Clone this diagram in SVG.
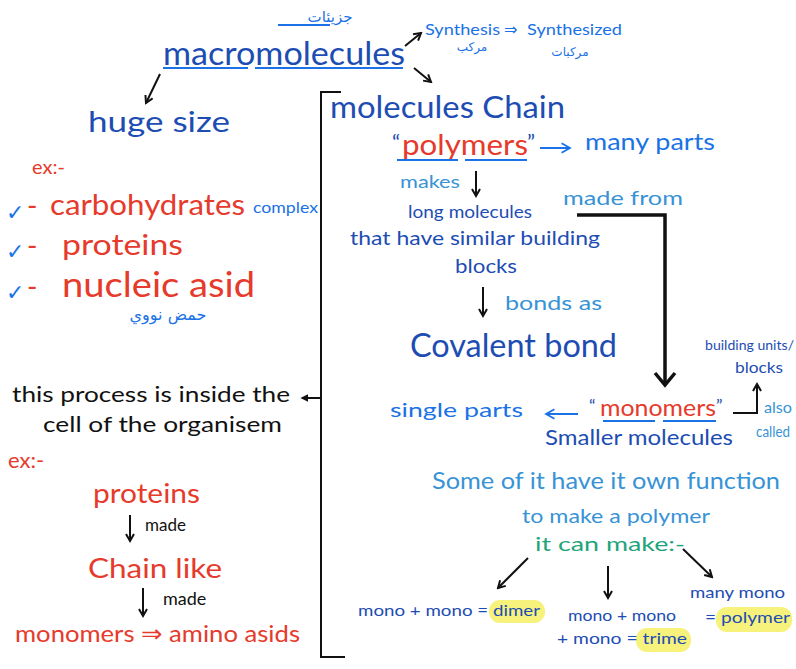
<svg xmlns="http://www.w3.org/2000/svg" width="796" height="669" viewBox="0 0 796 669">
<style>
text{font-family:Lato,"Open Sans","DejaVu Sans",sans-serif;}
.ar{font-family:"DejaVu Sans","Noto Sans",sans-serif;}
.db{fill:#1d4db3;}
.mb{fill:#1a72e6;}
.lb{fill:#3893d6;}
.rd{fill:#e63a2c;}
.gr{fill:#1ea57a;}
.bk{fill:#111;}
.ln{stroke:#111;stroke-width:2;fill:none;}
.thk{stroke:#111;stroke-width:3.5;fill:none;}
.ul{stroke:#1a72e6;stroke-width:2;fill:none;}
.hl{fill:#f7f27c;}
</style>
<defs>
<marker id="ah" viewBox="0 0 10 10" refX="8" refY="5" markerWidth="5" markerHeight="5" orient="auto-start-reverse">
<path d="M1,1 L8,5 L1,9" fill="none" stroke="#111" stroke-width="2"/>
</marker>
<marker id="ahs" viewBox="0 0 10 10" refX="8" refY="5" markerWidth="4" markerHeight="4" orient="auto">
<path d="M0,0 L10,5 L0,10 Z" fill="#111"/>
</marker>
<marker id="ahb" viewBox="0 0 10 10" refX="8" refY="5" markerWidth="6" markerHeight="6" orient="auto">
<path d="M1,1 L8,5 L1,9" fill="none" stroke="#1a72e6" stroke-width="1.5"/>
</marker>
</defs>

<g id="connectors">
<line class="ln" x1="405" y1="46" x2="421" y2="33" marker-end="url(#ah)"/>
<line class="ln" x1="414" y1="68" x2="431" y2="82" marker-end="url(#ah)"/>
<line class="ln" x1="160" y1="74" x2="146" y2="103" marker-end="url(#ah)"/>
<path class="ln" d="M341,92 L321,92 L321,657 L345,657"/>
<line class="ln" x1="321" y1="398" x2="302" y2="398" marker-end="url(#ahs)"/>
<line class="ul" x1="540" y1="148" x2="570" y2="148" marker-end="url(#ahb)"/>
<line class="ln" x1="476" y1="171" x2="476" y2="196" marker-end="url(#ah)"/>
<path class="thk" d="M577,215 L665,215 L665,384" />
<path d="M655,373 L665,385 L675,373" fill="none" stroke="#111" stroke-width="3.5"/>
<line class="ln" x1="483" y1="287" x2="483" y2="316" marker-end="url(#ah)"/>
<path class="ln" d="M733,413 L757,413 L757,384" marker-end="url(#ah)"/>
<line class="ul" x1="578" y1="414" x2="546" y2="414" marker-end="url(#ahb)"/>
<line class="ln" x1="130" y1="515" x2="130" y2="541" marker-end="url(#ah)"/>
<line class="ln" x1="143" y1="588" x2="143" y2="616" marker-end="url(#ah)"/>
<line class="ln" x1="528" y1="558" x2="498" y2="588" stroke-width="2.5" marker-end="url(#ah)"/>
<line class="ln" x1="608" y1="566" x2="608" y2="598" stroke-width="2.5" marker-end="url(#ah)"/>
<line class="ln" x1="683" y1="549" x2="712" y2="577" stroke-width="2.5" marker-end="url(#ah)"/>
</g>

<g id="n-macromolecules">
<text class="ar mb" x="330" y="22" font-size="15" text-anchor="middle">جزيئات</text>
<path class="ul" d="M278,25 L330,25"/>
<text class="db" x="163" y="65" font-size="32" textLength="242" lengthAdjust="spacingAndGlyphs">macromolecules</text>
<path class="ul" d="M163,68 L248,68 M255,68 L403,68"/>
</g>

<g id="n-synthesis">
<text class="mb" x="425" y="35" font-size="16" textLength="75" lengthAdjust="spacingAndGlyphs">Synthesis</text>
<text class="mb" x="504" y="35" font-size="16">⇒</text>
<text class="mb" x="527" y="35" font-size="16" textLength="95" lengthAdjust="spacingAndGlyphs">Synthesized</text>
<text class="ar mb" x="472" y="51" font-size="12" text-anchor="middle">مركب</text>
<text class="ar mb" x="570" y="56" font-size="12" text-anchor="middle">مركبات</text>
</g>

<g id="n-huge">
<text class="db" x="88" y="132" font-size="28" textLength="142" lengthAdjust="spacingAndGlyphs">huge size</text>
<text class="rd" x="32" y="174" font-size="20">ex:-</text>
<text class="mb" x="6" y="220" font-size="22">✓</text>
<text class="rd" x="27" y="216" font-size="28">-</text>
<text class="rd" x="50" y="215" font-size="28" textLength="195" lengthAdjust="spacingAndGlyphs">carbohydrates</text>
<text class="mb" x="253" y="213" font-size="16" textLength="65" lengthAdjust="spacingAndGlyphs">complex</text>
<text class="mb" x="6" y="259" font-size="22">✓</text>
<text class="rd" x="27" y="256" font-size="28">-</text>
<text class="rd" x="62" y="255" font-size="28" textLength="121" lengthAdjust="spacingAndGlyphs">proteins</text>
<text class="mb" x="6" y="300" font-size="22">✓</text>
<text class="rd" x="27" y="297" font-size="28">-</text>
<text class="rd" x="62" y="297" font-size="34" textLength="193" lengthAdjust="spacingAndGlyphs">nucleic asid</text>
<text class="ar mb" x="168" y="320" font-size="16" text-anchor="middle">حمض نووي</text>
</g>

<g id="n-process">
<text class="bk" x="12" y="402" font-size="21" textLength="278" lengthAdjust="spacingAndGlyphs">this process is inside the</text>
<text class="bk" x="43" y="432" font-size="21" textLength="239" lengthAdjust="spacingAndGlyphs">cell of the organisem</text>
<text class="rd" x="8" y="468" font-size="22">ex:-</text>
<text class="rd" x="93" y="503" font-size="26" textLength="107" lengthAdjust="spacingAndGlyphs">proteins</text>
<text class="bk" x="145" y="531" font-size="17">made</text>
<text class="rd" x="88" y="578" font-size="26" textLength="134" lengthAdjust="spacingAndGlyphs">Chain like</text>
<text class="bk" x="163" y="605" font-size="18">made</text>
<text class="rd" x="15" y="642" font-size="24" textLength="285" lengthAdjust="spacingAndGlyphs">monomers ⇒ amino asids</text>
</g>

<g id="n-chain">
<text class="db" x="330" y="118" font-size="30" textLength="235" lengthAdjust="spacingAndGlyphs">molecules Chain</text>
</g>

<g id="n-polymers">
<text class="db" x="392" y="150" font-size="22">“</text>
<text class="rd" x="402" y="155" font-size="28" textLength="126" lengthAdjust="spacingAndGlyphs">polymers</text>
<text class="db" x="527" y="150" font-size="22">”</text>
<path class="ul" d="M397,160 L458,160 M465,160 L527,160"/>
<text class="mb" x="585" y="150" font-size="24" textLength="130" lengthAdjust="spacingAndGlyphs">many parts</text>
<text class="lb" x="400" y="188" font-size="18" textLength="60" lengthAdjust="spacingAndGlyphs">makes</text>
<text class="lb" x="563" y="205" font-size="20" textLength="120" lengthAdjust="spacingAndGlyphs">made from</text>
</g>

<g id="n-long">
<text class="db" x="408" y="218" font-size="18" textLength="124" lengthAdjust="spacingAndGlyphs">long molecules</text>
<text class="db" x="350" y="245" font-size="20" textLength="250" lengthAdjust="spacingAndGlyphs">that have similar building</text>
<text class="db" x="455" y="273" font-size="19" textLength="62" lengthAdjust="spacingAndGlyphs">blocks</text>
<text class="lb" x="505" y="310" font-size="20" textLength="97" lengthAdjust="spacingAndGlyphs">bonds as</text>
</g>

<g id="n-covalent">
<text class="db" x="410" y="357" font-size="32" textLength="207" lengthAdjust="spacingAndGlyphs">Covalent bond</text>
</g>

<g id="n-monomers">
<text class="db" x="705" y="350" font-size="14" textLength="89" lengthAdjust="spacingAndGlyphs">building units/</text>
<text class="db" x="735" y="373" font-size="15" textLength="48" lengthAdjust="spacingAndGlyphs">blocks</text>
<text class="lb" x="764" y="413" font-size="16" textLength="28" lengthAdjust="spacingAndGlyphs">also</text>
<text class="lb" x="756" y="437" font-size="16" textLength="34" lengthAdjust="spacingAndGlyphs">called</text>
<text class="mb" x="390" y="417" font-size="20" textLength="133" lengthAdjust="spacingAndGlyphs">single parts</text>
<text class="db" x="589" y="412" font-size="18">“</text>
<text class="rd" x="600" y="416" font-size="24" textLength="116" lengthAdjust="spacingAndGlyphs">monomers</text>
<text class="db" x="716" y="412" font-size="18">”</text>
<path class="ul" d="M603,421 L655,421 M663,421 L716,421"/>
<text class="db" x="545" y="445" font-size="22" textLength="188" lengthAdjust="spacingAndGlyphs">Smaller molecules</text>
</g>

<g id="n-function">
<text class="lb" x="432" y="489" font-size="24" textLength="348" lengthAdjust="spacingAndGlyphs">Some of it have it own function</text>
<text class="lb" x="522" y="523" font-size="20" textLength="188" lengthAdjust="spacingAndGlyphs">to make a polymer</text>
<text class="gr" x="535" y="551" font-size="20" textLength="150" lengthAdjust="spacingAndGlyphs">it can make:-</text>
</g>

<g id="n-dimer">
<rect class="hl" x="489" y="600" width="56" height="23" rx="11"/>
<text class="db" x="358" y="616" font-size="16" textLength="182" lengthAdjust="spacingAndGlyphs">mono + mono = dimer</text>
</g>

<g id="n-trimer">
<rect class="hl" x="636" y="628" width="55" height="24" rx="11"/>
<text class="db" x="568" y="621" font-size="16" textLength="108" lengthAdjust="spacingAndGlyphs">mono + mono</text>
<text class="db" x="557" y="644" font-size="16" textLength="130" lengthAdjust="spacingAndGlyphs">+ mono = trime</text>
</g>

<g id="n-polymer">
<rect class="hl" x="716" y="607" width="76" height="25" rx="11"/>
<text class="db" x="690" y="598" font-size="16" textLength="95" lengthAdjust="spacingAndGlyphs">many mono</text>
<text class="db" x="705" y="623" font-size="16" textLength="85" lengthAdjust="spacingAndGlyphs">= polymer</text>
</g>
</svg>
